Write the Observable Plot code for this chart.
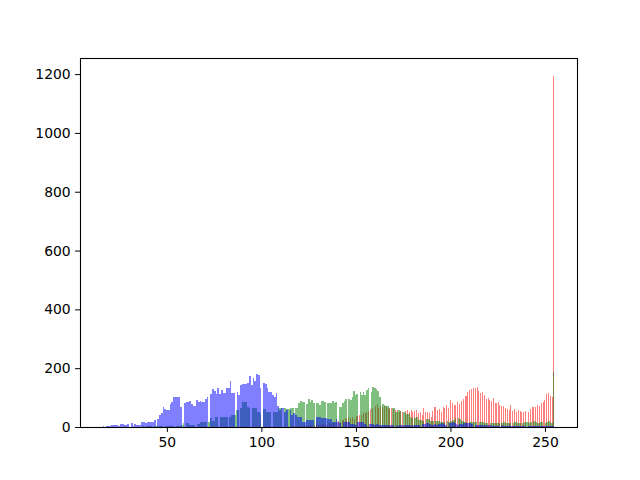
<!DOCTYPE html>
<html><head><meta charset="utf-8">
<script src="https://cdn.jsdelivr.net/npm/d3@7"></script>
<script src="https://cdn.jsdelivr.net/npm/@observablehq/plot@0.6"></script>
<style>body{margin:0;background:#fff}</style>
</head><body><div id="chart"></div>
<script>
// Pixel-value counts per channel, one entry per integer value starting at *Start
const redStart = 115;
const redCounts = [
  2,0,3,2,4,3,5,4,6,5,
  4,6,5,7,6,8,6,9,7,10,
  8,12,10,14,12,16,20,18,24,29,
  26,33,30,33,28,36,38,41,40,46,
  49,50,55,60,66,70,77,65,72,68,
  72,70,66,60,63,61,57,58,52,55,
  50,54,58,52,58,50,54,57,49,52,
  41,63,52,50,46,35,55,67,58,60,
  52,69,64,75,63,93,80,75,75,86,
  77,88,96,105,120,125,128,131,134,137,
  123,114,118,110,94,100,92,88,97,80,
  86,75,71,71,66,62,58,75,55,60,
  52,58,56,52,52,53,50,60,69,68,
  69,75,70,80,86,92,111,116,105,102,
  1195
];
const greenStart = 37;
const greenCounts = [
  2,0,3,2,5,3,5,4,3,5,
  4,3,5,4,5,6,5,5,5,5,
  5,8,12,12,12,8,8,8,8,10,
  10,18,18,18,18,18,30,21,21,35,
  35,35,35,35,35,35,35,41,41,41,
  58,58,63,86,86,86,69,63,63,63,
  63,52,50,45,60,60,52,52,52,52,
  52,52,66,66,63,63,61,61,61,63,
  63,65,65,80,89,84,84,78,94,84,
  92,80,80,80,75,88,88,86,80,80,
  80,88,82,86,69,67,80,90,95,95,
  92,102,124,110,111,120,108,120,109,126,
  134,118,137,131,129,122,103,77,75,72,
  72,66,63,63,52,50,58,54,50,46,
  43,43,35,32,29,33,24,24,24,22,
  26,26,26,21,21,22,20,21,18,18,
  18,19,18,20,22,24,29,29,27,22,
  20,18,18,18,17,18,17,17,16,17,
  17,15,15,15,14,12,12,13,15,14,
  15,18,15,14,15,15,14,16,18,15,
  14,15,16,18,17,15,18,20,16,15,
  14,18,16,15,18,20,15,12,188
];
const blueStart = 16;
const blueCounts = [
  5,0,3,5,5,7,7,7,7,3,
  10,10,7,7,10,15,5,10,7,7,
  7,17,17,15,18,18,18,18,24,27,
  40,49,68,61,57,57,79,86,102,102,
  102,102,68,80,84,84,88,77,73,73,
  92,84,89,84,84,94,101,111,129,123,
  113,134,112,125,116,116,132,132,156,114,
  114,120,108,142,147,147,147,149,172,143,
  165,157,179,176,131,149,146,133,118,120,
  110,103,114,71,58,63,63,52,58,58,
  41,46,40,35,35,35,16,16,24,24,
  24,24,24,33,33,33,29,29,29,26,
  26,26,16,16,26,16,12,18,18,18,
  18,10,10,10,8,18,18,18,18,10,
  8,10,9,10,7,9,6,8,7,6,
  8,7,5,7,6,8,5,7,6,5,
  7,6,8,6,5,7,8,6,7,9,
  10,12,15,10,8,7,9,8,10,9,
  12,10,8,12,15,18,14,10,8,9,
  10,12,14,15,15,12,9,7,8,6,
  7,8,6,5,7,6,5,6,5,5,
  4,6,5,4,5,6,4,5,4,3,
  5,4,3,4,5,3,4,3,4,3,
  4,3,3,4,3,3,4,2,3,5
];
const valueMax = 255;
const binCount = 256;
const xTicks = [50, 100, 150, 200, 250];
const yTicks = [0, 200, 400, 600, 800, 1000, 1200];

// Same binning as a 256-bin histogram spanning each channel's own min..max
function binChannel(start, counts) {
  const w = (valueMax - start) / binCount;
  const bins = new Array(binCount).fill(0);
  counts.forEach((c, k) => {
    const i = Math.min(binCount - 1, Math.floor(k / w + 1e-9));
    bins[i] += c;
  });
  return bins.map((c, i) => ({x1: start + i * w, x2: start + (i + 1) * w, count: c}))
             .filter(d => d.count > 0);
}

const redBins = binChannel(redStart, redCounts);
const greenBins = binChannel(greenStart, greenCounts);
const blueBins = binChannel(blueStart, blueCounts);

const dataMin = Math.min(redStart, greenStart, blueStart);
const span = valueMax - dataMin;
const yMax = d3.max([redBins, greenBins, blueBins], b => d3.max(b, d => d.count));

const chart = Plot.plot({
  width: 640,
  height: 480,
  marginLeft: 80,
  marginRight: 63,
  marginTop: 58,
  marginBottom: 53,
  style: {fontFamily: "DejaVu Sans", fontSize: "13.9px", background: "white", color: "black"},
  x: {domain: [dataMin - 0.05 * span, valueMax + 0.05 * span], ticks: xTicks, tickSize: 4.9, tickPadding: 4.9, label: null},
  y: {domain: [0, yMax * 1.05], ticks: yTicks, tickFormat: "d", tickSize: 4.9, tickPadding: 4.9, label: null},
  marks: [
    Plot.rect(redBins, {x1: "x1", x2: "x2", y1: 0, y2: "count", fill: "#ff0000", fillOpacity: 0.5, shapeRendering: "crispEdges"}),
    Plot.rect(greenBins, {x1: "x1", x2: "x2", y1: 0, y2: "count", fill: "#008000", fillOpacity: 0.5, shapeRendering: "crispEdges"}),
    Plot.rect(blueBins, {x1: "x1", x2: "x2", y1: 0, y2: "count", fill: "#0000ff", fillOpacity: 0.5, shapeRendering: "crispEdges"}),
    Plot.frame({stroke: "black", strokeWidth: 1.1})
  ]
});
document.getElementById("chart").appendChild(chart);
</script>
</body></html>
